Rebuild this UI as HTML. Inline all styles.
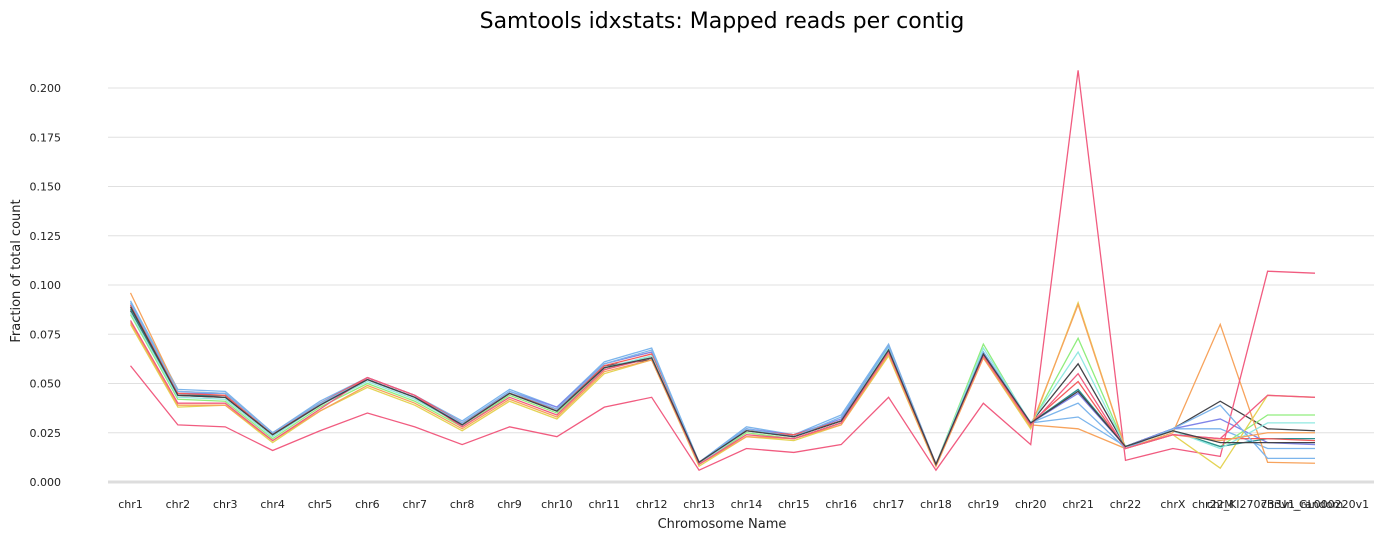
<!DOCTYPE html>
<html><head><meta charset="utf-8"><style>
body{margin:0;background:#fff;font-family:"Liberation Sans","DejaVu Sans",sans-serif}
svg text{font-family:"DejaVu Sans","Liberation Sans",sans-serif}
</style></head><body>
<svg id="chart" width="1384" height="540" xmlns="http://www.w3.org/2000/svg">
<text x="722" y="28" text-anchor="middle" font-size="22" fill="#000">Samtools idxstats: Mapped reads per contig</text>
<text transform="translate(20,271) rotate(-90)" text-anchor="middle" font-size="13" fill="#222">Fraction of total count</text>
<text x="722" y="528" text-anchor="middle" font-size="13" fill="#222">Chromosome Name</text>
<g id="grid"></g><g id="series"></g><g id="xlabels"></g>
</svg>
<script>
const categories=["chr1","chr2","chr3","chr4","chr5","chr6","chr7","chr8","chr9","chr10","chr11","chr12","chr13","chr14","chr15","chr16","chr17","chr18","chr19","chr20","chr21","chr22","chrX","chrM","chr22_KI270733v1_random","chrUn_GL000220v1"];
const yTicks=[0,0.025,0.05,0.075,0.1,0.125,0.15,0.175,0.2];
const colors=["#7cb5ec","#434348","#90ed7d","#f7a35c","#8085e9","#f15c80","#e4d354","#2b908f","#f45b5b","#91e8e1","#7cb5ec","#f7a35c","#f15c80","#434348"];
const s1=[0.092,0.047,0.046,0.025,0.041,0.053,0.044,0.031,0.047,0.038,0.061,0.068,0.010,0.028,0.024,0.034,0.070,0.009,0.066,0.030,0.033,0.018,0.027,0.027,0.017,0.017];
const s2=[0.087,0.044,0.043,0.024,0.039,0.052,0.043,0.029,0.045,0.036,0.059,0.062,0.010,0.026,0.024,0.031,0.068,0.009,0.065,0.030,0.060,0.018,0.027,0.041,0.027,0.026];
const s3=[0.085,0.042,0.041,0.022,0.038,0.050,0.041,0.028,0.044,0.035,0.057,0.064,0.009,0.025,0.022,0.030,0.066,0.009,0.070,0.029,0.073,0.018,0.026,0.018,0.034,0.034];
const s4=[0.096,0.046,0.045,0.025,0.040,0.052,0.043,0.029,0.045,0.037,0.060,0.066,0.009,0.027,0.023,0.031,0.069,0.009,0.064,0.029,0.027,0.017,0.025,0.080,0.010,0.0095];
const s5=[0.090,0.045,0.045,0.025,0.040,0.053,0.044,0.030,0.046,0.038,0.060,0.066,0.010,0.027,0.024,0.032,0.069,0.009,0.066,0.030,0.045,0.018,0.027,0.032,0.020,0.019];
const s6=[0.059,0.029,0.028,0.016,0.026,0.035,0.028,0.019,0.028,0.023,0.038,0.043,0.006,0.017,0.015,0.019,0.043,0.006,0.040,0.019,0.209,0.011,0.017,0.013,0.107,0.106];
const s7=[0.080,0.038,0.039,0.020,0.036,0.048,0.039,0.026,0.041,0.032,0.055,0.062,0.008,0.023,0.021,0.029,0.064,0.008,0.063,0.027,0.091,0.017,0.024,0.007,0.044,0.043];
const s8=[0.088,0.044,0.044,0.024,0.039,0.052,0.043,0.029,0.045,0.036,0.058,0.063,0.010,0.026,0.023,0.031,0.067,0.009,0.065,0.030,0.047,0.018,0.026,0.018,0.022,0.022];
const s9=[0.090,0.045,0.044,0.024,0.040,0.053,0.044,0.030,0.045,0.037,0.059,0.065,0.010,0.026,0.024,0.031,0.068,0.009,0.065,0.030,0.051,0.017,0.024,0.022,0.022,0.021];
const s10=[0.086,0.043,0.042,0.023,0.039,0.051,0.042,0.029,0.045,0.036,0.058,0.064,0.009,0.026,0.023,0.031,0.068,0.009,0.068,0.030,0.066,0.018,0.026,0.017,0.030,0.030];
const s11=[0.091,0.046,0.045,0.025,0.040,0.052,0.043,0.030,0.046,0.037,0.060,0.067,0.010,0.027,0.023,0.033,0.069,0.009,0.066,0.030,0.040,0.017,0.027,0.039,0.012,0.012];
const s12=[0.081,0.039,0.039,0.021,0.036,0.049,0.040,0.027,0.042,0.033,0.056,0.062,0.009,0.023,0.022,0.029,0.065,0.008,0.063,0.028,0.090,0.017,0.024,0.021,0.025,0.025];
const s13=[0.082,0.040,0.040,0.021,0.037,0.053,0.044,0.028,0.043,0.034,0.057,0.063,0.009,0.024,0.022,0.030,0.066,0.009,0.064,0.029,0.055,0.017,0.024,0.022,0.044,0.043];
const s14=[0.089,0.044,0.043,0.024,0.039,0.052,0.043,0.029,0.045,0.036,0.058,0.063,0.010,0.026,0.023,0.031,0.067,0.009,0.065,0.030,0.046,0.018,0.026,0.020,0.020,0.020];
const allSeries=[s1,s2,s3,s4,s5,s6,s7,s8,s9,s10,s11,s12,s13,s14];
const NS="http://www.w3.org/2000/svg";
const x0=130.5, dx=47.38, yBase=482, yPx=1970;
const xScale=i=>x0+i*dx;
const yScale=v=>yBase-v*yPx;
const grid=document.getElementById('grid');
yTicks.forEach(t=>{
  const l=document.createElementNS(NS,'line');
  
  
  l.setAttribute('x1',108);l.setAttribute('x2',1374);
  l.setAttribute('y1',yScale(t));l.setAttribute('y2',yScale(t));
  l.setAttribute('stroke',t===0?'#ddd':'#e0e0e0');l.setAttribute('stroke-width',t===0?3:1);
  grid.appendChild(l);
  const tx=document.createElementNS(NS,'text');
  
  
  tx.setAttribute('x',61);tx.setAttribute('y',yScale(t)+4);
  tx.setAttribute('text-anchor','end');tx.setAttribute('font-size','11');tx.setAttribute('fill','#222');
  tx.textContent=t.toFixed(3);
  grid.appendChild(tx);
});
const xl=document.getElementById('xlabels');
categories.forEach((c,i)=>{
  const tx=document.createElementNS(NS,'text');
  
  
  tx.setAttribute('x',xScale(i));tx.setAttribute('y',508);
  tx.setAttribute('text-anchor','middle');tx.setAttribute('font-size','11');tx.setAttribute('fill','#222');
  tx.textContent=c;
  xl.appendChild(tx);
});
const sg=document.getElementById('series');
allSeries.forEach((s,k)=>{
  const p=document.createElementNS(NS,'polyline');
  
  
  p.setAttribute('points',s.map((v,i)=>xScale(i)+','+yScale(v)).join(' '));
  p.setAttribute('fill','none');p.setAttribute('stroke',colors[k]);p.setAttribute('stroke-width',1.3);
  sg.appendChild(p);
});
</script>
</body></html>
